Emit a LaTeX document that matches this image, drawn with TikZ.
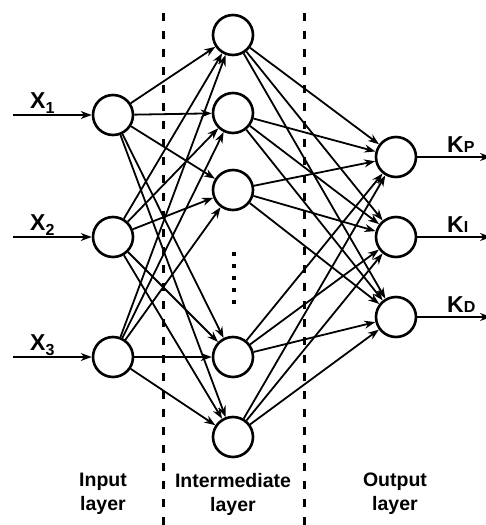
\documentclass[tikz,border=0pt]{standalone}
\usepackage{fontspec}
\setmainfont{Liberation Sans}
\usetikzlibrary{arrows.meta}
\begin{document}
\begin{tikzpicture}[x=1pt,y=-1pt,
  neuron/.style={circle,draw,line width=2.6pt,minimum size=40pt,inner sep=0pt,fill=white},
  conn/.style={line width=1.8pt,-{Stealth[length=11pt,width=8pt]}},
  sep/.style={line width=3pt,dash pattern=on 8pt off 10pt},
  biglbl/.style={font=\fontsize{23}{23}\selectfont\bfseries,inner sep=0pt},
  layerlbl/.style={font=\fontsize{19.5}{24}\selectfont\bfseries,align=center,inner sep=0pt}
]
\useasboundingbox (0,0) rectangle (486,525);
% separators
\draw[sep] (163,13) coordinate (s1a) -- (163,530) coordinate (s1b);
\draw[sep] (304,13) coordinate (s2a) -- (304,530) coordinate (s2b);
% input neurons
\node[neuron] (i1) at (113,115) {};
\node[neuron] (i2) at (113,237) {};
\node[neuron] (i3) at (113,357) {};
% hidden
\node[neuron] (h1) at (233,35) {};
\node[neuron] (h2) at (233,113) {};
\node[neuron] (h3) at (233,190) {};
\node[neuron] (h4) at (233,357) {};
\node[neuron] (h5) at (233,437) {};
% outputs
\node[neuron] (o1) at (396,157) {};
\node[neuron] (o2) at (396,237) {};
\node[neuron] (o3) at (396,317) {};
% connections
\foreach \i in {1,2,3}{\foreach \h in {1,...,5}{\draw[conn] (i\i) -- (h\h);}}
\foreach \h in {1,...,5}{\foreach \o in {1,2,3}{\draw[conn] (h\h) -- (o\o);}}
% dots
\foreach \y/\n in {254/d1,266/d2,278/d3,290/d4,302/d5}{\node[fill,minimum size=3.5pt,inner sep=0pt] (\n) at (234,\y) {};}
% input arrows
\coordinate (x1s) at (13,115);
\coordinate (x2s) at (13,237);
\coordinate (x3s) at (13,357);
\draw[conn] (x1s) -- (i1);
\draw[conn] (x2s) -- (i2);
\draw[conn] (x3s) -- (i3);
% output arrows
\coordinate (k1e) at (491,157);
\coordinate (k2e) at (491,237);
\coordinate (k3e) at (491,317);
\draw[conn] (o1) -- (k1e);
\draw[conn] (o2) -- (k2e);
\draw[conn] (o3) -- (k3e);
% labels
\node[biglbl,anchor=base west] (lx1) at (30,108) {X\raisebox{-5pt}{\fontsize{16}{16}\selectfont 1}};
\node[biglbl,anchor=base west] (lx2) at (30,230) {X\raisebox{-5pt}{\fontsize{16}{16}\selectfont 2}};
\node[biglbl,anchor=base west] (lx3) at (30,350) {X\raisebox{-5pt}{\fontsize{16}{16}\selectfont 3}};
\node[biglbl,anchor=base west] (lk1) at (447,152) {K{\fontsize{16}{16}\selectfont P}};
\node[biglbl,anchor=base west] (lk2) at (447,232) {K{\fontsize{16}{16}\selectfont I}};
\node[biglbl,anchor=base west] (lk3) at (447,312) {K{\fontsize{16}{16}\selectfont D}};
\node[layerlbl] (l1) at (103,494) {Input\\layer};
\node[layerlbl] (l2) at (233,494) {Intermediate\\layer};
\node[layerlbl] (l3) at (395,494) {Output\\layer};
\end{tikzpicture}
\end{document}
